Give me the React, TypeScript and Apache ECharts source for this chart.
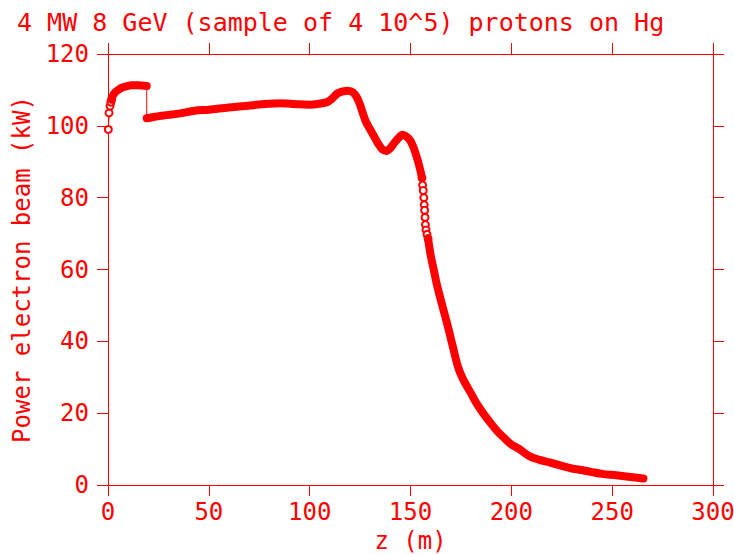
import React, { useEffect, useRef } from "react";
import * as echarts from "echarts";

const titleText = "4 MW 8 GeV (sample of 4 10^5) protons on Hg";
const xName = "z (m)";
const yName = "Power electron beam (kW)";
const xTicks = [0, 50, 100, 150, 200, 250, 300];
const yTicks = [0, 20, 40, 60, 80, 100, 120];

// sparse start (individual circles)
const startPts: number[][] = [
  [0.15, 99], [0.5, 103.6], [1, 105.5], [1.4, 106.6], [1.8, 107.4],
];
// first plateau (dense)
const seg1: number[][] = [
  [1.8, 107.4], [2.5, 108.5], [3.5, 109.3], [5, 110], [6.8, 110.6], [9, 111],
  [11.7, 111.3], [15, 111.3], [19.2, 111.1],
];
// main body (dense)
const seg2: number[][] = [
  [19.2, 102.1], [22, 102.4], [26.6, 102.8], [35, 103.4], [43, 104.2], [50, 104.5],
  [59.7, 105.1], [68, 105.5], [76.2, 106], [82, 106.2], [85, 106.3], [89, 106.2],
  [95, 106], [100, 105.9], [104, 106.1], [108.6, 106.6], [111, 107.5], [113.5, 108.9],
  [116, 109.5], [119, 109.8], [121.5, 109.3], [123.5, 107.8], [125, 105.8],
  [126.5, 103.3], [128, 101], [130, 99], [132, 97], [134, 95], [136, 93.5], [138, 93],
  [140, 93.8], [142, 95.3], [144, 96.6], [146, 97.5], [147.5, 97.2], [149, 96.5],
  [150, 95.8], [151.5, 94], [153, 91.5], [154.5, 88.5], [155.7, 85.5],
];
// sparse steep part (individual circles)
const sparsePts: number[][] = [
  [155.7, 85.5], [156, 83.5], [156.3, 82], [156.6, 80], [156.8, 78], [157, 76.5],
  [157.2, 74.5], [157.4, 72.5], [157.7, 71], [158.2, 69.8], [158.7, 68.6],
];
// tail (dense)
const seg3: number[][] = [
  [158.7, 68.6], [160, 64], [161.5, 60], [163, 56], [165.5, 50.5], [168.6, 44],
  [171, 38.5], [173.5, 33], [176, 29.5], [179.5, 26], [183, 22.5], [186, 20],
  [189.4, 17.5], [193, 15], [197, 12.8], [200, 11.3], [204, 10], [209, 8], [214, 7],
  [219, 6.3], [225, 5.3], [230, 4.6], [235.5, 4.1], [240, 3.6], [245, 3.1],
  [252, 2.7], [258, 2.3], [265.5, 1.8],
];

const RED = "#ff0000";
const FONT = "DejaVu Sans Mono";

export default function App() {
  const ref = useRef<HTMLDivElement>(null);
  useEffect(() => {
    if (!ref.current) return;
    const chart = echarts.init(ref.current, undefined, { renderer: "svg" });
    const allPts = [...startPts, ...seg1.slice(1), ...seg2, ...sparsePts.slice(1), ...seg3.slice(1)];
    const xMin = xTicks[0], xMax = xTicks[xTicks.length - 1];
    const yMin = yTicks[0], yMax = yTicks[yTicks.length - 1];
    const baseAxis = {
      axisLine: { show: true, onZero: false, lineStyle: { color: RED, width: 1 } },
      axisTick: { show: true, inside: false, length: 11, lineStyle: { color: RED, width: 1 } },
      splitLine: { show: false },
    };
    const band = (data: number[][]) => ({
      type: "line",
      data,
      showSymbol: false,
      symbol: "none",
      smooth: 0.3,
      lineStyle: { color: RED, width: 8, cap: "round", join: "round" },
      z: 4,
      silent: true,
    });
    const circles = (data: number[][]) => ({
      type: "line",
      data,
      symbol: "emptyCircle",
      symbolSize: 7,
      showAllSymbol: true,
      lineStyle: { color: RED, width: 1 },
      itemStyle: { color: RED, borderColor: RED, borderWidth: 1 },
      z: 3,
      silent: true,
    });
    chart.setOption({
      animation: false,
      backgroundColor: "#ffffff",
      title: {
        text: titleText,
        left: 12,
        top: 5,
        textStyle: { color: RED, fontFamily: FONT, fontSize: 25, fontWeight: "normal" },
      },
      grid: { left: 108, right: 21, top: 54, bottom: 69, containLabel: false, outerBoundsMode: "none" },
      xAxis: [
        {
          ...baseAxis,
          type: "value",
          position: "bottom",
          min: xMin, max: xMax, interval: 50,
          name: xName,
          nameLocation: "middle",
          nameGap: 30,
          nameTextStyle: { color: RED, fontFamily: FONT, fontSize: 24 },
          axisLabel: { color: RED, fontFamily: FONT, fontSize: 24, margin: 15 },
        },
        {
          ...baseAxis,
          type: "value",
          position: "top",
          min: xMin, max: xMax, interval: 50,
          axisLabel: { show: false },
        },
      ],
      yAxis: [
        {
          ...baseAxis,
          type: "value",
          position: "left",
          min: yMin, max: yMax, interval: 20,
          name: yName,
          nameLocation: "middle",
          nameGap: 74,
          nameRotate: 90,
          nameTextStyle: { color: RED, fontFamily: FONT, fontSize: 24 },
          axisLabel: { color: RED, fontFamily: FONT, fontSize: 24, margin: 19 },
        },
        {
          ...baseAxis,
          type: "value",
          position: "right",
          min: yMin, max: yMax, interval: 20,
          axisLabel: { show: false },
        },
      ],
      series: [
        {
          type: "line",
          data: allPts,
          symbol: "none",
          showSymbol: false,
          lineStyle: { color: RED, width: 1 },
          z: 2,
          silent: true,
        },
        circles(startPts),
        circles(sparsePts),
        band(seg1),
        band(seg2),
        band(seg3),
      ],
    });
    return () => chart.dispose();
  }, []);
  return <div ref={ref} style={{ width: 734, height: 554, position: "absolute", left: 0, top: 0 }} />;
}
